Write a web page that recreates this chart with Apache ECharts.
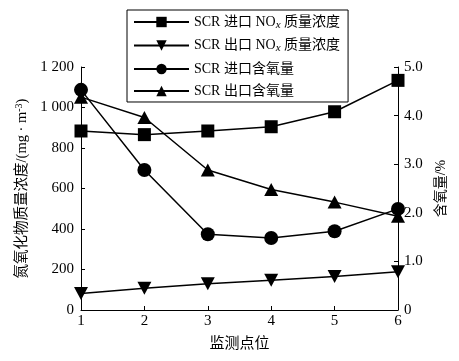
<!DOCTYPE html>
<html><head><meta charset="utf-8">
<script src="https://cdn.jsdelivr.net/npm/echarts@6/dist/echarts.min.js"></script>
<style>html,body{margin:0;padding:0;background:#fff}#c{width:459px;height:361px}</style>
</head><body><div id="c"></div>
<script>
const points = [1, 2, 3, 4, 5, 6];
const inletNOx = [884, 866, 884, 905, 979, 1134];
const outletNOx = [82, 107, 130, 147, 165, 189];
const inletO2 = [4.53, 2.88, 1.56, 1.48, 1.62, 2.08];
const outletO2 = [4.38, 3.96, 2.88, 2.48, 2.22, 1.93];
const leftTicks = ['0', '200', '400', '600', '800', '1 000', '1 200'];
const seriesNames = ['SCR 进口 NOx 质量浓度', 'SCR 出口 NOx 质量浓度', 'SCR 进口含氧量', 'SCR 出口含氧量'];

const FONT = '"Liberation Serif", "Times New Roman", "Noto Sans CJK SC", serif';
const pair = arr => arr.map((v, i) => [points[i], v]);
const chart = echarts.init(document.getElementById('c'), null, {renderer: 'canvas'});
const lineStyle = {color: '#000', width: 1.5};
const mk = (name, data, sym, yIdx, size) => ({
  name, type: 'line', data: pair(data), yAxisIndex: yIdx, symbol: sym, symbolSize: size,
  itemStyle: {color: '#000'}, lineStyle, z: 3
});
chart.setOption({
  animation: false,
  textStyle: {fontFamily: FONT, color: '#000'},
  grid: {left: 81, right: 61, top: 67, bottom: 51},
  legend: {
    orient: 'vertical', left: 127, top: 10,
    backgroundColor: '#fff', borderColor: '#000', borderWidth: 1,
    padding: [5, 8, 4, 6], itemWidth: 55, itemHeight: 13, itemGap: 8, z: 10,
    data: seriesNames,
    textStyle: {fontFamily: FONT, fontSize: 14, color: '#000',
      rich: {sub: {fontFamily: FONT, fontSize: 11, fontStyle: 'italic', verticalAlign: 'bottom', padding: [6, 0, 0, 0], color: '#000'}}},
    formatter: n => n.replace('NOx', 'NO{sub|x}')
  },
  xAxis: {
    type: 'value', min: 1, max: 6, interval: 1,
    name: '监测点位', nameLocation: 'middle', nameGap: 27,
    nameTextStyle: {fontFamily: FONT, fontSize: 15, color: '#000'},
    axisLine: {lineStyle: {color: '#000', width: 1}},
    axisTick: {inside: true, length: 4, lineStyle: {color: '#000'}},
    axisLabel: {fontFamily: FONT, fontSize: 15, color: '#000', margin: 4},
    splitLine: {show: false}
  },
  yAxis: [{
    type: 'value', min: 0, max: 1200, interval: 200, position: 'left',
    name: '氮氧化物质量浓度/(mg · m{sup|-3})', nameLocation: 'middle', nameGap: 50, nameRotate: 90,
    nameTextStyle: {fontFamily: FONT, fontSize: 14.5, color: '#000',
      rich: {sup: {fontFamily: FONT, fontSize: 10, verticalAlign: 'top', padding: [0, 0, 6, 0], color: '#000'}}},
    axisLine: {show: true, lineStyle: {color: '#000', width: 1}},
    axisTick: {show: true, inside: true, length: 4, lineStyle: {color: '#000'}},
    axisLabel: {fontFamily: FONT, fontSize: 15, color: '#000', margin: 7,
      formatter: v => leftTicks[Math.round(v / 200)]},
    splitLine: {show: false}
  }, {
    type: 'value', min: 0, max: 5, interval: 1, position: 'right',
    name: '含氧量/%', nameLocation: 'middle', nameGap: 36, nameRotate: 90,
    nameTextStyle: {fontFamily: FONT, fontSize: 14, color: '#000'},
    axisLine: {show: true, lineStyle: {color: '#000', width: 1}},
    axisTick: {show: true, inside: true, length: 4, lineStyle: {color: '#000'}},
    axisLabel: {fontFamily: FONT, fontSize: 15, color: '#000', margin: 6,
      formatter: v => v === 0 ? '0' : v.toFixed(1)},
    splitLine: {show: false}
  }],
  series: [
    mk(seriesNames[0], inletNOx, 'rect', 0, 13),
    mk(seriesNames[1], outletNOx, 'path://M0,0 L10,0 L5,9 Z', 0, [14, 13]),
    mk(seriesNames[2], inletO2, 'circle', 1, 14),
    mk(seriesNames[3], outletO2, 'triangle', 1, [14, 13])
  ]
});
</script></body></html>
